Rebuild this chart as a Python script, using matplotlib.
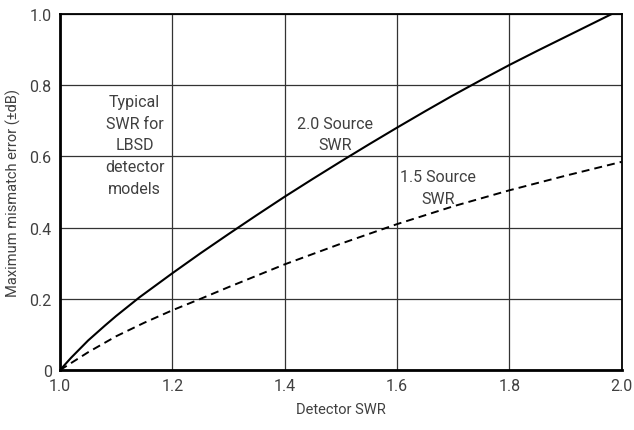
import matplotlib.pyplot as plt
import numpy as np

plt.rcParams['font.family'] = ['Roboto', 'DejaVu Sans']

# detector SWR vs maximum mismatch error
swr_src20 = [1.0, 1.02, 1.05, 1.08, 1.1, 1.142, 1.2, 1.25, 1.3, 1.35, 1.4, 1.45, 1.5,
             1.55, 1.6, 1.65, 1.7, 1.75, 1.8, 1.85, 1.9, 1.95, 1.982]
err_src20 = [0.0, 0.035, 0.083, 0.125, 0.152, 0.205, 0.272, 0.328, 0.382, 0.435, 0.487,
             0.537, 0.586, 0.634, 0.681, 0.727, 0.772, 0.815, 0.857, 0.897, 0.936, 0.975, 1.0]

swr_src15 = [1.0, 1.02, 1.05, 1.1, 1.15, 1.2, 1.25, 1.3, 1.35, 1.4, 1.5, 1.6, 1.7,
             1.8, 1.9, 2.0]
err_src15 = [0.0, 0.02, 0.05, 0.095, 0.133, 0.168, 0.2, 0.233, 0.265, 0.297, 0.355,
             0.41, 0.46, 0.505, 0.546, 0.585]

xticks = [1.0, 1.2, 1.4, 1.6, 1.8, 2.0]
yticks = [0, 0.2, 0.4, 0.6, 0.8, 1.0]
ytick_labels = ['0', '0.2', '0.4', '0.6', '0.8', '1.0']

txt = '#404040'

fig = plt.figure(figsize=(6.34, 4.31), dpi=100)
ax = fig.add_axes([0.0946, 0.139, 0.886, 0.826])

ax.plot(swr_src20, err_src20, color='black', lw=1.5)
ax.plot(swr_src15, err_src15, color='black', lw=1.4, dashes=(4.1, 2.6))

ax.set_xlim(1.0, 2.0)
ax.set_ylim(0, 1.0)
ax.set_xticks(xticks)
ax.set_xticklabels([f'{t:.1f}' for t in xticks])
ax.set_yticks(yticks)
ax.set_yticklabels(ytick_labels)
ax.tick_params(length=0, labelsize=11.5, colors=txt, pad=6)
ax.grid(True, color='#333333', lw=0.9)
for s in ax.spines.values():
    s.set_linewidth(1.3)
ax.spines['bottom'].set_linewidth(2)
ax.spines['left'].set_linewidth(2)

ax.set_xlabel('Detector SWR', fontsize=10.5, color=txt, labelpad=6)
ax.set_ylabel('Maximum mismatch error (±dB)', fontsize=10.5, color=txt, labelpad=6)

ax.text(1.133, 0.775, 'Typical\nSWR for\nLBSD\ndetector\nmodels', ha='center', va='top',
        fontsize=11.5, color=txt, linespacing=1.55)
ax.text(1.49, 0.715, '2.0 Source\nSWR', ha='center', va='top',
        fontsize=11.5, color=txt, linespacing=1.55)
ax.text(1.673, 0.565, '1.5 Source\nSWR', ha='center', va='top',
        fontsize=11.5, color=txt, linespacing=1.55)

fig.savefig('out.png', dpi=100)
